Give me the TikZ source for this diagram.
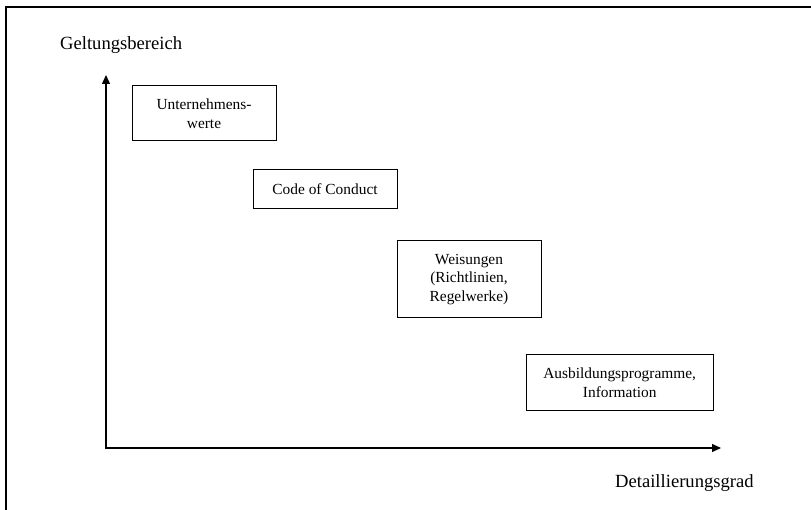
\documentclass[tikz,border=0pt]{standalone}
\usepackage{fontspec}
\setmainfont{Liberation Serif}
\usetikzlibrary{arrows.meta}
\begin{document}
\begin{tikzpicture}[x=1pt,y=-1pt,
  box/.style={draw, line width=1pt, inner sep=0pt, align=center,
    font=\fontsize{15.4}{18.5}\selectfont},
  axlabel/.style={font=\fontsize{18.6}{22}\selectfont, inner sep=0pt, anchor=west},
  axis/.style={line width=1.4pt, {Triangle[length=9pt,width=8pt]}-{Triangle[length=9pt,width=8pt]}},
  frameline/.style={line width=2pt}]
\useasboundingbox (0,0) rectangle (811,510);
% outer frame (left and top)
\coordinate (fbl) at (5.5,510);
\coordinate (ftl) at (5.5,7.5);
\coordinate (ftr) at (811,7.5);
\draw[frameline] (fbl) -- (ftl) -- (ftr);
% axes
\coordinate (ytip) at (106,75);
\coordinate (orig) at (106,448);
\coordinate (xtip) at (721,448);
\draw[axis] (ytip) -- (orig) -- (xtip);
% axis labels
\node[axlabel] (gb) at (60,45) {Geltungsbereich};
\node[axlabel] (dg) at (615,483) {Detaillierungsgrad};
% boxes
\node[box, minimum width=144pt, minimum height=55pt] (uw) at (204,113.5) {Unternehmens-\\werte};
\node[box, minimum width=144pt, minimum height=39pt] (coc) at (325,188.8) {Code of Conduct};
\node[box, minimum width=144pt, minimum height=77pt] (weis) at (469,279.5) {Weisungen\\(Richtlinien,\\Regelwerke)};
\node[box, minimum width=187pt, minimum height=56.5pt] (ausb) at (619.7,382.5) {Ausbildungsprogramme,\\Information};
\end{tikzpicture}
\end{document}
